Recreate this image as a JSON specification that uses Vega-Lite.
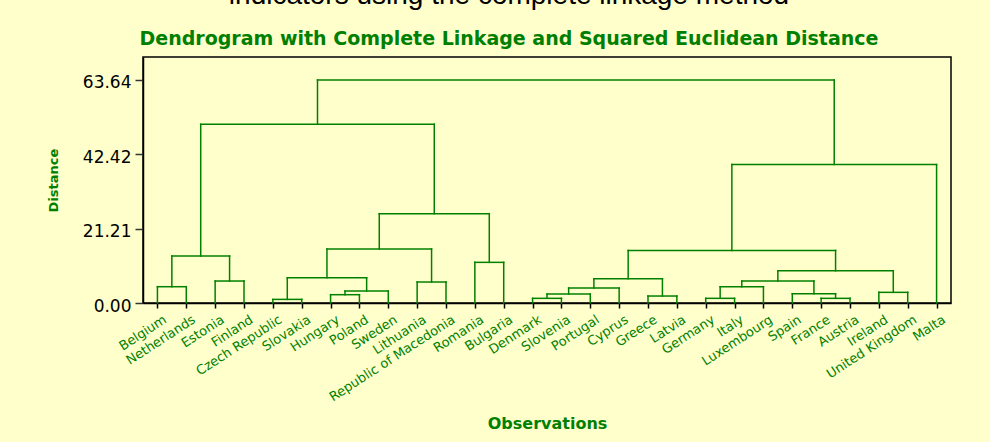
{
  "$schema": "https://vega.github.io/schema/vega-lite/v6.json",
  "width": 808,
  "height": 246,
  "autosize": {"type": "none"},
  "padding": {"left": 143, "top": 57, "right": 39, "bottom": 139},
  "background": "#FFFFCC",
  "title": {
    "text": "indicators using the complete linkage method",
    "subtitle": "Dendrogram with Complete Linkage and Squared Euclidean Distance",
    "anchor": "middle",
    "frame": "group",
    "dx": -38,
    "font": "Liberation Sans",
    "fontSize": 28,
    "fontWeight": "normal",
    "color": "black",
    "subtitleFont": "DejaVu Sans",
    "subtitleFontSize": 19,
    "subtitleFontWeight": "bold",
    "subtitleColor": "#008000",
    "subtitlePadding": 20,
    "offset": 8
  },
  "datasets": {
    "leaves": [
      {"country": "Belgium"}, {"country": "Netherlands"}, {"country": "Estonia"}, {"country": "Finland"},
      {"country": "Czech Republic"}, {"country": "Slovakia"}, {"country": "Hungary"}, {"country": "Poland"},
      {"country": "Sweden"}, {"country": "Lithuania"}, {"country": "Republic of Macedonia"}, {"country": "Romania"},
      {"country": "Bulgaria"}, {"country": "Denmark"}, {"country": "Slovenia"}, {"country": "Portugal"},
      {"country": "Cyprus"}, {"country": "Greece"}, {"country": "Latvia"}, {"country": "Germany"},
      {"country": "Italy"}, {"country": "Luxembourg"}, {"country": "Spain"}, {"country": "France"},
      {"country": "Austria"}, {"country": "Ireland"}, {"country": "United Kingdom"}, {"country": "Malta"}
    ],
    "merges": [
      {"xl": 0, "xr": 1, "hl": 0, "hr": 0, "h": 4.65},
      {"xl": 2, "xr": 3, "hl": 0, "hr": 0, "h": 6.27},
      {"xl": 0.5, "xr": 2.5, "hl": 4.65, "hr": 6.27, "h": 13.4},
      {"xl": 4, "xr": 5, "hl": 0, "hr": 0, "h": 1.03},
      {"xl": 6, "xr": 7, "hl": 0, "hr": 0, "h": 2.37},
      {"xl": 6.5, "xr": 8, "hl": 2.37, "hr": 0, "h": 3.42},
      {"xl": 4.5, "xr": 7.25, "hl": 1.03, "hr": 3.42, "h": 7.2},
      {"xl": 9, "xr": 10, "hl": 0, "hr": 0, "h": 5.99},
      {"xl": 5.875, "xr": 9.5, "hl": 7.2, "hr": 5.99, "h": 15.4},
      {"xl": 11, "xr": 12, "hl": 0, "hr": 0, "h": 11.6},
      {"xl": 7.6875, "xr": 11.5, "hl": 15.4, "hr": 11.6, "h": 25.5},
      {"xl": 1.5, "xr": 9.59375, "hl": 13.4, "hr": 25.5, "h": 51.0},
      {"xl": 13, "xr": 14, "hl": 0, "hr": 0, "h": 1.33},
      {"xl": 13.5, "xr": 15, "hl": 1.33, "hr": 0, "h": 2.56},
      {"xl": 14.25, "xr": 16, "hl": 2.56, "hr": 0, "h": 4.27},
      {"xl": 17, "xr": 18, "hl": 0, "hr": 0, "h": 1.99},
      {"xl": 15.125, "xr": 17.5, "hl": 4.27, "hr": 1.99, "h": 6.93},
      {"xl": 19, "xr": 20, "hl": 0, "hr": 0, "h": 1.33},
      {"xl": 19.5, "xr": 21, "hl": 1.33, "hr": 0, "h": 4.65},
      {"xl": 23, "xr": 24, "hl": 0, "hr": 0, "h": 1.33},
      {"xl": 22, "xr": 23.5, "hl": 0, "hr": 1.33, "h": 2.65},
      {"xl": 20.25, "xr": 22.75, "hl": 4.65, "hr": 2.65, "h": 6.27},
      {"xl": 25, "xr": 26, "hl": 0, "hr": 0, "h": 3.04},
      {"xl": 21.5, "xr": 25.5, "hl": 6.27, "hr": 3.04, "h": 9.2},
      {"xl": 16.3125, "xr": 23.5, "hl": 6.93, "hr": 9.2, "h": 15.0},
      {"xl": 19.90625, "xr": 27, "hl": 15.0, "hr": 0, "h": 39.5},
      {"xl": 5.546875, "xr": 23.453125, "hl": 51.0, "hr": 39.5, "h": 63.64}
    ]
  },
  "layer": [
    {
      "data": {"name": "leaves"},
      "mark": {"type": "point", "opacity": 0},
      "encoding": {
        "x": {
          "field": "country",
          "type": "nominal",
          "sort": null,
          "scale": {"type": "point", "padding": 0.5},
          "axis": {
            "title": "Observations",
            "titleFont": "DejaVu Sans",
            "titleFontSize": 16,
            "titleFontWeight": "bold",
            "titleColor": "#008000",
            "titleY": 125,
            "titleBaseline": "alphabetic",
            "labelAngle": -33,
            "labelAlign": "right",
            "labelBaseline": "top",
            "labelFont": "DejaVu Sans",
            "labelFontSize": 13,
            "labelColor": "#008000",
            "labelPadding": 5,
            "labelOffset": 4,
            "labelOverlap": false,
            "labelLimit": 0,
            "tickSize": 5,
            "tickColor": "black",
            "tickWidth": 1.5,
            "domainColor": "black",
            "domainWidth": 1.5,
            "grid": false
          }
        }
      }
    },
    {
      "data": {"name": "merges"},
      "layer": [
        {
          "mark": {"type": "rule", "color": "#008000", "strokeWidth": 1.5, "strokeCap": "square"},
          "encoding": {
            "x": {"field": "xl", "type": "quantitative", "scale": {"domain": [-0.5, 27.5], "nice": false, "zero": false}, "axis": null},
            "x2": {"field": "xr"},
            "y": {
              "field": "h",
              "type": "quantitative",
              "scale": {"domain": [0, 70.2], "nice": false, "zero": false},
              "axis": {
                "values": [0, 21.21, 42.42, 63.64],
                "format": ".2f",
                "title": "Distance",
                "grid": false,
                "domainColor": "black",
                "domainWidth": 1.5,
                "tickColor": "#333333",
                "tickSize": 8,
                "tickWidth": 1.5,
                "labelFont": "DejaVu Sans",
                "labelFontSize": 17,
                "labelColor": "black",
                "labelPadding": 4,
                "labelOffset": 3,
                "titleFont": "DejaVu Sans",
                "titleFontSize": 13,
                "titleFontWeight": "bold",
                "titleColor": "#008000",
                "titleX": -90,
                "titleBaseline": "middle",
                "titleAngle": -90
              }
            }
          }
        },
        {
          "mark": {"type": "rule", "color": "#008000", "strokeWidth": 1.5, "strokeCap": "square"},
          "encoding": {
            "x": {"field": "xl", "type": "quantitative"},
            "y": {"field": "hl", "type": "quantitative"},
            "y2": {"field": "h"}
          }
        },
        {
          "mark": {"type": "rule", "color": "#008000", "strokeWidth": 1.5, "strokeCap": "square"},
          "encoding": {
            "x": {"field": "xr", "type": "quantitative"},
            "y": {"field": "hr", "type": "quantitative"},
            "y2": {"field": "h"}
          }
        }
      ]
    }
  ],
  "resolve": {"scale": {"x": "independent"}, "axis": {"x": "independent"}},
  "config": {
    "view": {"stroke": "black", "strokeWidth": 1.5}
  }
}
